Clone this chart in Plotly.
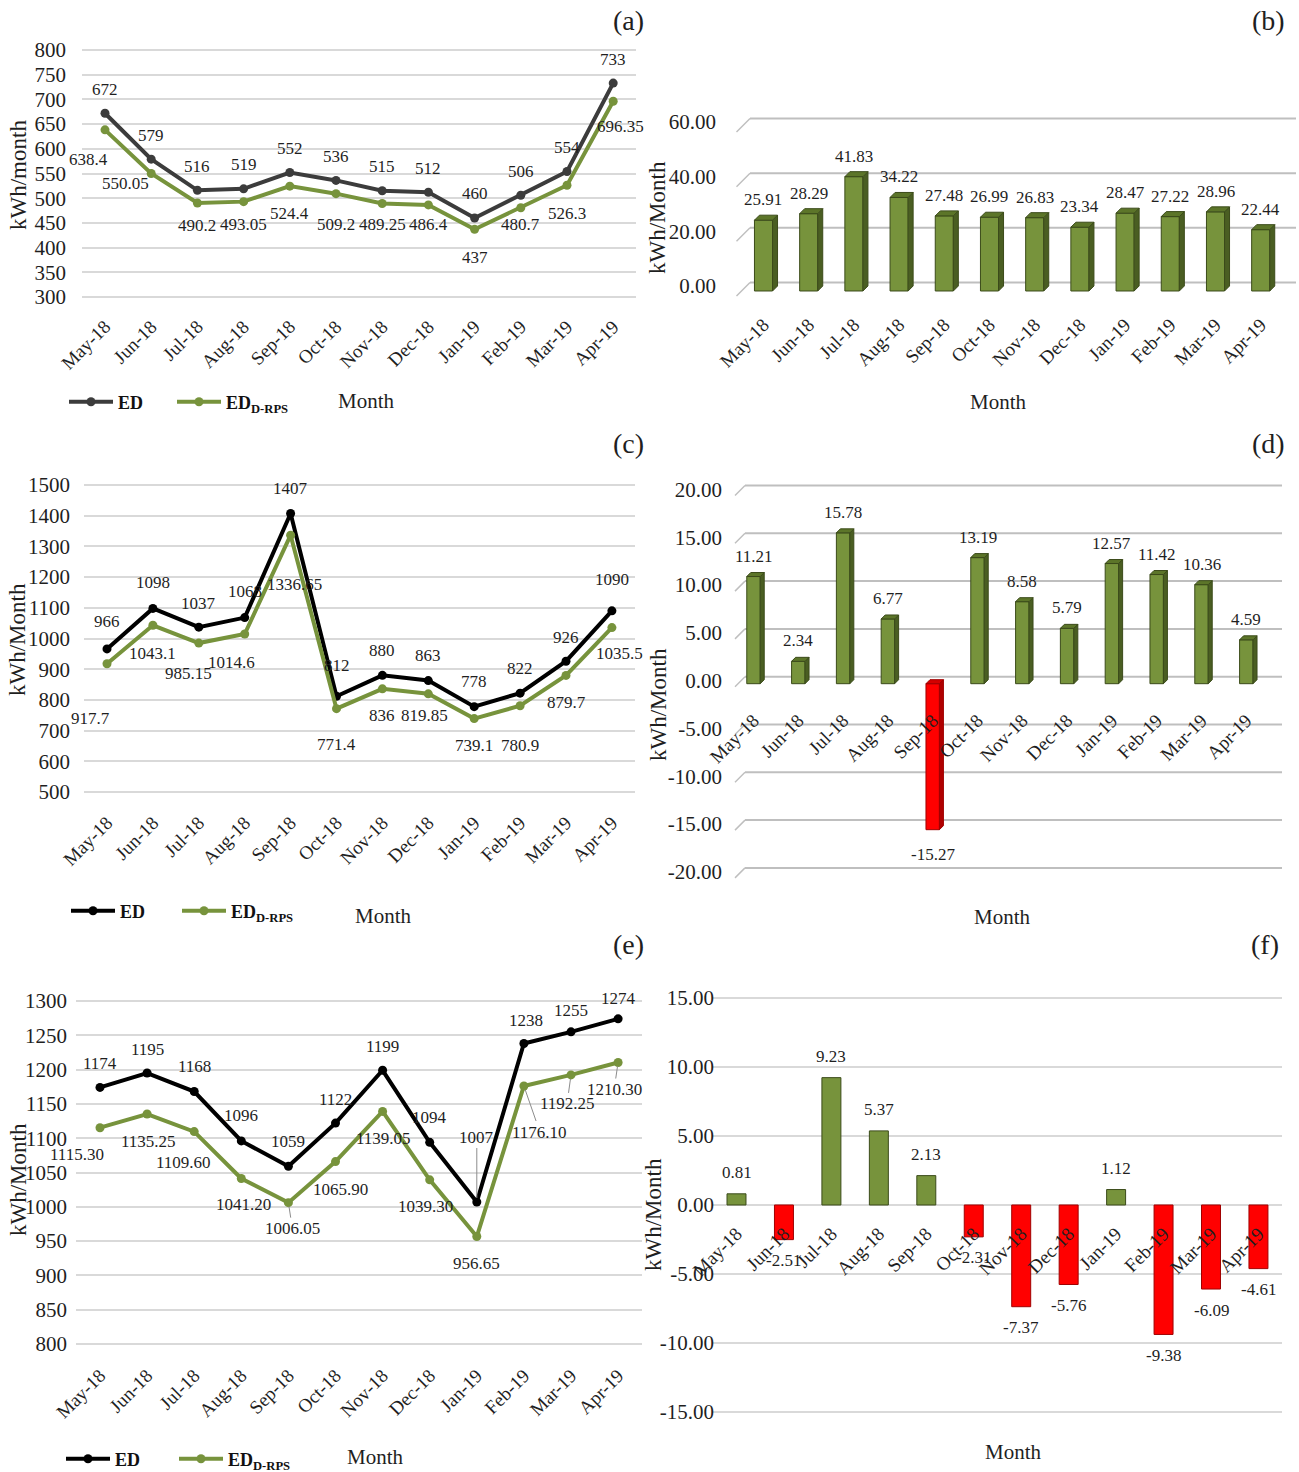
import plotly.graph_objects as go

W, H = 1299, 1472
SERIF = "Liberation Serif"
TXT = "#1f1f1f"
GREEN = "#77933c"
GREEN_SIDE = "#4a5e22"
GREEN_TOP = "#5c7529"
GREEN_EDGE = "#3b4b1a"
RED = "#ff0000"
RED_SIDE = "#b00000"
RED_TOP = "#d40000"
RED_EDGE = "#a00000"
GRID = "#d9d9d9"
GRID3D = "#bfbfbf"

# ---------------- data ----------------
months = ["May-18", "Jun-18", "Jul-18", "Aug-18", "Sep-18", "Oct-18",
          "Nov-18", "Dec-18", "Jan-19", "Feb-19", "Mar-19", "Apr-19"]

ed_a = [672, 579, 516, 519, 552, 536, 515, 512, 460, 506, 554, 733]
edrps_a = [638.4, 550.05, 490.2, 493.05, 524.4, 509.2, 489.25, 486.4, 437, 480.7, 526.3, 696.35]
diff_b = [25.91, 28.29, 41.83, 34.22, 27.48, 26.99, 26.83, 23.34, 28.47, 27.22, 28.96, 22.44]

ed_c = [966, 1098, 1037, 1068, 1407, 812, 880, 863, 778, 822, 926, 1090]
edrps_c = [917.7, 1043.1, 985.15, 1014.6, 1336.65, 771.4, 836, 819.85, 739.1, 780.9, 879.7, 1035.5]
diff_d = [11.21, 2.34, 15.78, 6.77, -15.27, 13.19, 8.58, 5.79, 12.57, 11.42, 10.36, 4.59]

ed_e = [1174, 1195, 1168, 1096, 1059, 1122, 1199, 1094, 1007, 1238, 1255, 1274]
edrps_e = [1115.30, 1135.25, 1109.60, 1041.20, 1006.05, 1065.90, 1139.05, 1039.30,
           956.65, 1176.10, 1192.25, 1210.30]
diff_f = [0.81, -2.51, 9.23, 5.37, 2.13, -2.31, -7.37, -5.76, 1.12, -9.38, -6.09, -4.61]

ticks_a = list(range(300, 801, 50))
ticks_c = list(range(500, 1501, 100))
ticks_e = list(range(800, 1301, 50))
ticks_b = [0, 20, 40, 60]
ticks_d = [-20, -15, -10, -5, 0, 5, 10, 15, 20]
ticks_f = [-15, -10, -5, 0, 5, 10, 15]

# ---------------- label placement (pixel offsets of each data label) ----------------
ed_dx_a = [0] * 12
ed_dy_a = [-24] * 12
rps_dx_a = [-17, -26, 0, 0, 0, 0, 0, 0, 0, 0, 0, 7]
rps_dy_a = [30, 10, 22, 23, 27, 31, 21, 20, 28, 17, 28, 25]

ed_dx_c = [0] * 12
ed_dy_c = [-27, -26, -24, -26, -25, -31, -25, -25, -25, -25, -24, -31]
rps_dx_c = [-17, 0, -10, -13, 4, 0, 0, -4, 0, 0, 0, 8]
rps_dy_c = [55, 28, 30, 28, 49, 36, 27, 22, 27, 40, 27, 26]

ed_dx_e = [0, 0, 0, 0, 0, 0, 0, 0, 0, 2, 0, 0]
ed_dy_e = [-24, -24, -25, -25, -25, -24, -24, -25, -65, -23, -21, -20]
ed_lead_e = [False] * 8 + [True] + [False] * 3
rps_dx_e = [-23, 1, -11, 2, 4, 5, 1, -4, 0, 16, -4, -4]
rps_dy_e = [27, 27, 31, 26, 26, 28, 27, 27, 27, 46, 29, 27]
rps_lead_e = [False, False, False, False, True, False, False, False, False, True, True, True]

xs = list(range(len(months)))

F_YTICK, F_XTICK, F_LABEL, F_YTITLE = 21, 19, 17, 23


def fx(p):
    return p / W


def fy(p):
    return 1 - p / H


def ydomain(v1, p1, v2, p2, rng):
    s = (p2 - p1) / (v2 - v1)
    pb = p1 + (rng[0] - v1) * s
    pt = p1 + (rng[1] - v1) * s
    return [fy(pb), fy(pt)], (lambda v: p1 + (v - v1) * s), abs(s)


def xdomain(c0, step):
    return [fx(c0 - 0.5 * step), fx(c0 + (len(months) - 0.5) * step)]


fig = go.Figure()
layout = {}
annotations = []
shapes = []


def axis_names(k):
    sfx = "" if k == 1 else str(k)
    return "x" + sfx, "y" + sfx, "xaxis" + sfx, "yaxis" + sfx


def xtick_axis(dom, label_line_px):
    # month labels hang below a free-positioned axis line
    return dict(domain=dom, range=[-0.5, len(months) - 0.5], tickvals=xs, ticktext=months,
                tickangle=-45, showgrid=False, zeroline=False, showline=False, ticks="",
                tickfont=dict(family=SERIF, size=F_XTICK, color=TXT), anchor="free",
                position=fy(label_line_px), automargin=False, fixedrange=True)


def label(xa, ya, x, y, text, dx, dy, lead=False, size=F_LABEL):
    annotations.append(dict(
        x=x, y=y, xref=xa, yref=ya, text=text, showarrow=True, ax=dx, ay=dy,
        arrowhead=0, arrowwidth=1, standoff=4,
        arrowcolor="#8c8c8c" if lead else "rgba(0,0,0,0)",
        font=dict(family=SERIF, size=size, color=TXT)))


legend_style = dict(orientation="h", xanchor="left", yanchor="middle", itemwidth=44,
                    bgcolor="rgba(0,0,0,0)", font=dict(family=SERIF, size=18, color="#111111"))


def line_panel(k, ed, rps, ed_color, ticks, yref_pts, rng, c0, step, ylab_px,
               ed_fmt, rps_fmt, ed_dx, ed_dy, rps_dx, rps_dy, legend_ids, legend_px,
               ed_lead=None, rps_lead=None):
    xa, ya, xk, yk = axis_names(k)
    ydom, ypx, _ = ydomain(*yref_pts, rng)
    fig.add_trace(go.Scatter(
        x=xs, y=ed, mode="lines+markers", name="<b>ED</b>",
        line=dict(color=ed_color, width=4), marker=dict(size=9, color=ed_color),
        xaxis=xa, yaxis=ya, legend=legend_ids[0], cliponaxis=False))
    fig.add_trace(go.Scatter(
        x=xs, y=rps, mode="lines+markers", name="<b>ED<sub>D-RPS</sub></b>",
        line=dict(color=GREEN, width=4), marker=dict(size=9, color=GREEN),
        xaxis=xa, yaxis=ya, legend=legend_ids[1], cliponaxis=False))
    for lid, (lx, ly) in zip(legend_ids, legend_px):
        layout[lid] = dict(legend_style, x=fx(lx), y=fy(ly))
    layout[xk] = xtick_axis(xdomain(c0, step), ypx(rng[0]) + 9)
    layout[yk] = dict(domain=ydom, range=rng, tickvals=ticks, showgrid=True,
                      gridcolor=GRID, gridwidth=2, zeroline=False, showline=False,
                      ticks="", tickfont=dict(family=SERIF, size=F_YTICK, color=TXT),
                      anchor="free", position=fx(ylab_px), automargin=False, fixedrange=True)
    ed_lead = ed_lead or [False] * len(ed)
    rps_lead = rps_lead or [False] * len(rps)
    for i in xs:
        label(xa, ya, i, ed[i], ed_fmt(ed[i]), ed_dx[i], ed_dy[i], ed_lead[i])
        label(xa, ya, i, rps[i], rps_fmt(rps[i]), rps_dx[i], rps_dy[i], rps_lead[i])


def as_int(v):
    return str(int(round(v)))


def as_gen(v):
    return f"{v:g}"


def as_2f(v):
    return f"{v:.2f}"


# ---------- line charts (a), (c), (e) ----------
line_panel(1, ed_a, edrps_a, "#3c3c3c", ticks_a, (300, 297, 800, 50), [290, 810],
           105, 46.2, 66, as_int, as_gen, ed_dx_a, ed_dy_a, rps_dx_a, rps_dy_a,
           ("legend", "legend2"), ((64, 402), (172, 402)))
line_panel(2, ed_c, edrps_c, "#000000", ticks_c, (500, 792, 1500, 485), [480, 1520],
           107, 45.9, 70, as_int, as_gen, ed_dx_c, ed_dy_c, rps_dx_c, rps_dy_c,
           ("legend3", "legend4"), ((66, 911), (177, 911)))
line_panel(3, ed_e, edrps_e, "#000000", ticks_e, (800, 1344, 1300, 1001), [790, 1310],
           100, 47.1, 67, as_int, as_2f, ed_dx_e, ed_dy_e, rps_dx_e, rps_dy_e,
           ("legend5", "legend6"), ((61, 1459), (174, 1459)), ed_lead_e, rps_lead_e)


# ---------- 3-D style bar charts (b), (d) ----------
def bar3d_panel(k, vals, ticks, yref_pts, rng, c0, step, width, depth_px,
                back_px, front_px, grid_x0, grid_x1, ylab_px, label_gap, xlab_drop):
    xa, ya, xk, yk = axis_names(k)
    ydom, ypx, yscale = ydomain(*yref_pts, rng)
    ux = 1.0 / step
    uy = 1.0 / yscale
    ddx, ddy = depth_px * ux, depth_px * uy
    face = [GREEN if v >= 0 else RED for v in vals]
    edge = [GREEN_EDGE if v >= 0 else RED_EDGE for v in vals]
    fig.add_trace(go.Bar(x=xs, y=vals, width=width, marker=dict(color=face, line=dict(color=edge, width=1)),
                         xaxis=xa, yaxis=ya, showlegend=False))
    for i, v in zip(xs, vals):
        lo, hi = min(0, v), max(0, v)
        xl, xr = i - width / 2, i + width / 2
        side_c = GREEN_SIDE if v >= 0 else RED_SIDE
        top_c = GREEN_TOP if v >= 0 else RED_TOP
        ec = GREEN_EDGE if v >= 0 else RED_EDGE
        fig.add_trace(go.Scatter(
            x=[xr, xr + ddx, xr + ddx, xr, xr], y=[lo, lo + ddy, hi + ddy, hi, lo],
            fill="toself", fillcolor=side_c, mode="lines", line=dict(color=ec, width=1),
            xaxis=xa, yaxis=ya, showlegend=False, hoverinfo="skip"))
        fig.add_trace(go.Scatter(
            x=[xl, xl + ddx, xr + ddx, xr, xl], y=[hi, hi + ddy, hi + ddy, hi, hi],
            fill="toself", fillcolor=top_c, mode="lines", line=dict(color=ec, width=1),
            xaxis=xa, yaxis=ya, showlegend=False, hoverinfo="skip"))
        if v >= 0:
            annotations.append(dict(x=i, y=v, xref=xa, yref=ya, text=as_2f(v), showarrow=False,
                                    yanchor="bottom", yshift=label_gap,
                                    font=dict(family=SERIF, size=F_LABEL, color=TXT)))
        else:
            annotations.append(dict(x=i, y=v, xref=xa, yref=ya, text=as_2f(v), showarrow=False,
                                    yanchor="top", yshift=-label_gap - 4,
                                    font=dict(family=SERIF, size=F_LABEL, color=TXT)))
    # back-wall gridlines with the floor diagonal at the left
    for t in ticks:
        yb = ypx(t) - back_px
        yf = ypx(t) + front_px
        shapes.append(dict(type="line", xref="paper", yref="paper", x0=fx(grid_x0), x1=fx(grid_x1),
                           y0=fy(yb), y1=fy(yb), line=dict(color=GRID3D, width=2), layer="below"))
        shapes.append(dict(type="line", xref="paper", yref="paper",
                           x0=fx(grid_x0 - (back_px + front_px)), x1=fx(grid_x0),
                           y0=fy(yf), y1=fy(yb), line=dict(color=GRID3D, width=1.5), layer="below"))
    layout[xk] = xtick_axis(xdomain(c0, step), ypx(0) + xlab_drop)
    layout[yk] = dict(domain=ydom, range=rng, tickvals=ticks, ticktext=[as_2f(t) for t in ticks],
                      showgrid=False, zeroline=False, showline=False, ticks="",
                      tickfont=dict(family=SERIF, size=F_YTICK, color=TXT), anchor="free",
                      position=fx(ylab_px), ticklabelshift=-front_px, automargin=False,
                      fixedrange=True)


bar3d_panel(4, diff_b, ticks_b, (0, 291, 60, 127), [-4, 64], 763.5, 45.2, 0.4, 5,
            8.5, 5, 750, 1296, 716, 9, 18)
bar3d_panel(5, diff_d, ticks_d, (0, 683.7, 20, 492.5), [-21.5, 21.5], 753.5, 44.8, 0.3, 4,
            7, 3, 745, 1282, 722, 9, 21)

# ---------- flat bar chart (f) ----------
xa, ya, xk, yk = axis_names(6)
ydom_f, ypx_f, _ = ydomain(0, 1205, 15, 998, [-15.3, 15.3])
fig.add_trace(go.Bar(
    x=xs, y=diff_f, width=0.4,
    marker=dict(color=[GREEN if v >= 0 else RED for v in diff_f],
                line=dict(color=[GREEN_EDGE if v >= 0 else RED_EDGE for v in diff_f], width=1)),
    xaxis=xa, yaxis=ya, showlegend=False))
for i, v in zip(xs, diff_f):
    annotations.append(dict(x=i, y=v, xref=xa, yref=ya, text=as_2f(v), showarrow=False,
                            yshift=21 if v >= 0 else -21,
                            font=dict(family=SERIF, size=F_LABEL, color=TXT)))
layout[xk] = xtick_axis(xdomain(736.5, 47.45), ypx_f(0) + 13)
layout[yk] = dict(domain=ydom_f, range=[-15.3, 15.3], tickvals=ticks_f,
                  ticktext=[as_2f(t) for t in ticks_f], showgrid=True, gridcolor=GRID, gridwidth=2,
                  zeroline=False, showline=False, ticks="",
                  tickfont=dict(family=SERIF, size=F_YTICK, color=TXT), anchor="free",
                  position=fx(714), automargin=False, fixedrange=True)

# ---------- titles, panel letters ----------
def text(xp, yp, s, size, angle=0):
    annotations.append(dict(x=fx(xp), y=fy(yp), xref="paper", yref="paper", text=s,
                            showarrow=False, textangle=angle, xanchor="center", yanchor="middle",
                            font=dict(family=SERIF, size=size, color=TXT)))


for xp, yp, s in [(628, 20, "(a)"), (1268, 20, "(b)"), (628, 443, "(c)"),
                  (1268, 443, "(d)"), (628, 944, "(e)"), (1265, 944, "(f)")]:
    text(xp, yp, s, 28)

for xp, yp in [(366, 401), (998, 402), (383, 916), (1002, 917), (375, 1457), (1013, 1452)]:
    text(xp, yp, "Month", 21)

for xp, yp, s in [(18, 175, "kWh/month"), (657, 218, "kWh/Month"), (18, 640, "kWh/Month"),
                  (658, 705, "kWh/Month"), (18, 1180, "kWh/Month"), (653, 1215, "kWh/Month")]:
    text(xp, yp, s, F_YTITLE, angle=-90)

fig.update_layout(
    width=W, height=H, margin=dict(l=0, r=0, t=0, b=0, autoexpand=False),
    paper_bgcolor="white", plot_bgcolor="white",
    font=dict(family=SERIF, color=TXT),
    annotations=annotations, shapes=shapes, bargap=0.6, **layout)

fig.write_html("out.html")
